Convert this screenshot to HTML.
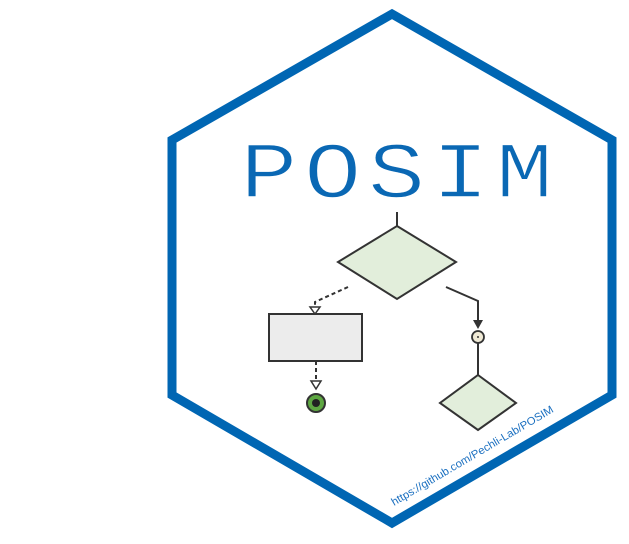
<!DOCTYPE html>
<html><head><meta charset="utf-8"><style>
html,body{margin:0;padding:0;background:#fff;}
svg{display:block;}
</style></head><body>
<svg width="629" height="544" viewBox="0 0 629 544" xmlns="http://www.w3.org/2000/svg">
<polygon points="392,14 612,140 612,395 392,523 172,395 172,140" fill="#fff" stroke="#0066b3" stroke-width="9" stroke-linejoin="miter"/>
<g transform="scale(1.2,1)">
<text x="200" y="197" font-family="Liberation Mono, monospace" font-size="80" fill="#0a68b4" stroke="#fff" stroke-width="1.6" textLength="261" lengthAdjust="spacing">POSIM</text>
</g>
<line x1="397" y1="212" x2="397" y2="226" stroke="#333" stroke-width="2"/>
<polygon points="397,226 456,262 397,299 338,262" fill="#e2eedb" stroke="#333" stroke-width="2"/>
<polyline points="348,287 315,302 315,307" fill="none" stroke="#333" stroke-width="2" stroke-dasharray="4,3"/>
<path d="M310,307 L320,307 L315,314 Z" fill="#fff" stroke="#333" stroke-width="1.5"/>
<rect x="269" y="314" width="93" height="47" fill="#ececec" stroke="#333" stroke-width="2"/>
<line x1="316" y1="361" x2="316" y2="381" stroke="#333" stroke-width="2" stroke-dasharray="4,3"/>
<path d="M311,381 L321,381 L316,389 Z" fill="#fff" stroke="#333" stroke-width="1.5"/>
<circle cx="316" cy="403" r="9" fill="#5ea742" stroke="#333" stroke-width="2"/>
<circle cx="316" cy="403" r="4" fill="#222"/>
<polyline points="446,287 478,301 478,322" fill="none" stroke="#333" stroke-width="2"/>
<path d="M473,320 L483,320 L478,329 Z" fill="#333"/>
<circle cx="478" cy="337" r="6" fill="#f0ead6" stroke="#333" stroke-width="1.8"/>
<circle cx="478" cy="337" r="1" fill="#333"/>
<line x1="478" y1="343" x2="478" y2="375" stroke="#333" stroke-width="2"/>
<polygon points="478,375 516,403 478,430 440,403" fill="#e2eedb" stroke="#333" stroke-width="2"/>
<text x="0" y="0" transform="translate(394,506) rotate(-30.5)" font-family="Liberation Sans, sans-serif" font-size="11" fill="#1a6fc0" textLength="186" lengthAdjust="spacingAndGlyphs">https://github.com/Pechli-Lab/POSIM</text>
</svg>
</body></html>
